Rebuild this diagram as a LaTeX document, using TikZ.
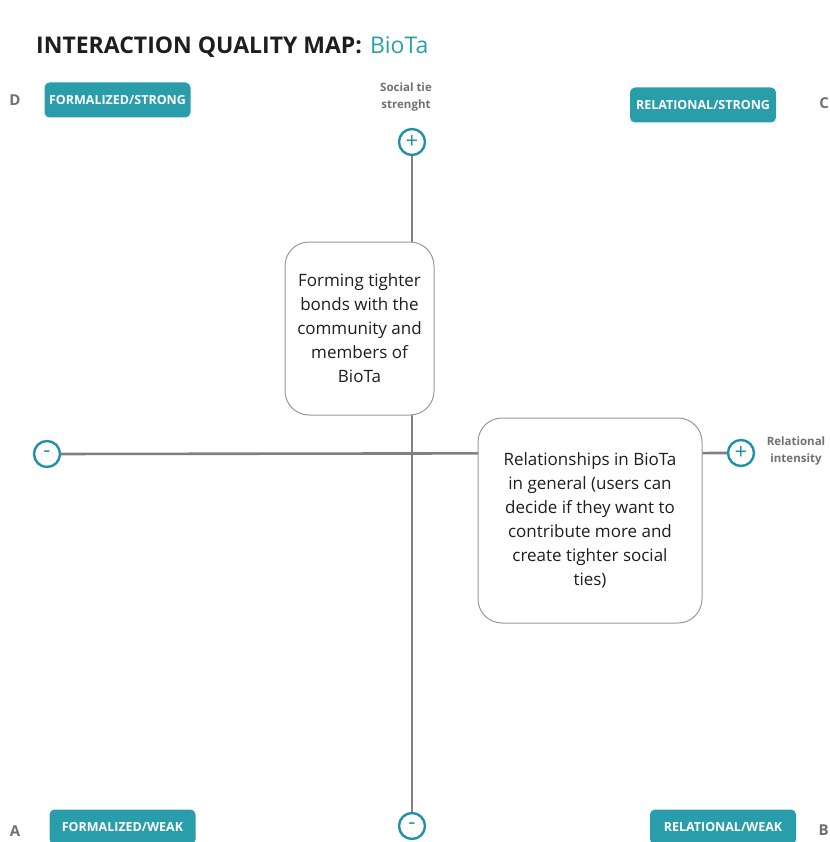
\documentclass[tikz,border=0pt]{standalone}
\usepackage{fontspec}
\setmainfont{Open Sans}
\usetikzlibrary{positioning}
\definecolor{map-teal}{HTML}{2A9DAA}
\definecolor{ring-teal}{HTML}{2290A6}
\definecolor{axis-gray}{HTML}{808080}
\definecolor{corner-gray}{HTML}{707070}
\definecolor{jet}{HTML}{1E1E1E}

\begin{document}
\begin{tikzpicture}[x=1pt, y=-1pt, every node/.style={inner sep=0pt},
    tag/.style={fill=map-teal, rounded corners=5pt, text=white, minimum width=146pt, minimum height=35pt, font=\fontsize{12.5}{14}\selectfont\bfseries},
    sign/.style={circle, draw=ring-teal, line width=2.4pt, minimum size=26pt, text=ring-teal, font=\fontsize{22}{22}\selectfont},
    quad/.style={text=corner-gray, font=\fontsize{15}{17}\selectfont\bfseries},
    axislabel/.style={text=corner-gray, align=center, font=\fontsize{11.5}{16.5}\selectfont\bfseries},
    bubble/.style={draw=axis-gray!80, fill=white, line width=1pt, rounded corners=24pt, align=center, text=jet, font=\fontsize{17}{24}\selectfont},
    axis/.style={draw=axis-gray, line width=2.6pt}]
    \useasboundingbox (0,0) rectangle (829,842);
    \node[anchor=base west, text=jet, font=\fontsize{23}{28}\selectfont] (title) at (36,54) {\textbf{INTERACTION QUALITY MAP:}\hspace{8pt}\textcolor{map-teal}{BioTa}};
    \node[tag] (formal-strong) at (117.5,100) {FORMALIZED/STRONG};
    \node[tag] (relat-strong) at (703,105) {RELATIONAL/STRONG};
    \node[tag] (formal-weak) at (122.5,827) {FORMALIZED/WEAK};
    \node[tag] (relat-weak) at (723,827) {RELATIONAL/WEAK};
    \node[quad] (corner-d) at (15,100) {D};
    \node[quad, anchor=east] (corner-c) at (829,103) {C};
    \node[quad] (corner-a) at (15,831) {A};
    \node[quad, anchor=east] (corner-b) at (829,830) {B};
    \node[sign] (tie-plus) at (412,142) {+};
    \node[sign] (tie-minus) at (412,826) {-};
    \node[sign] (int-minus) at (47,454) {-};
    \node[sign] (int-plus) at (741,453) {+};
    \node[axislabel] (tie-label) at (406,97) {Social tie\\strenght};
    \node[axislabel] (int-label) at (796,451) {Relational\\intensity};
    \draw[axis] (tie-plus) -- (tie-minus);
    \draw[axis] (int-minus) -- (int-plus);
    \node[bubble, minimum width=149pt, minimum height=173pt] (bonds) at (359.5,328.5) {Forming tighter\\bonds with the\\community and\\members of\\BioTa};
    \node[bubble, minimum width=224pt, minimum height=205pt] (general) at (590,520.5) {Relationships in BioTa\\in general (users can\\decide if they want to\\contribute more and\\create tighter social\\ties)};
  \end{tikzpicture}
\end{document}
